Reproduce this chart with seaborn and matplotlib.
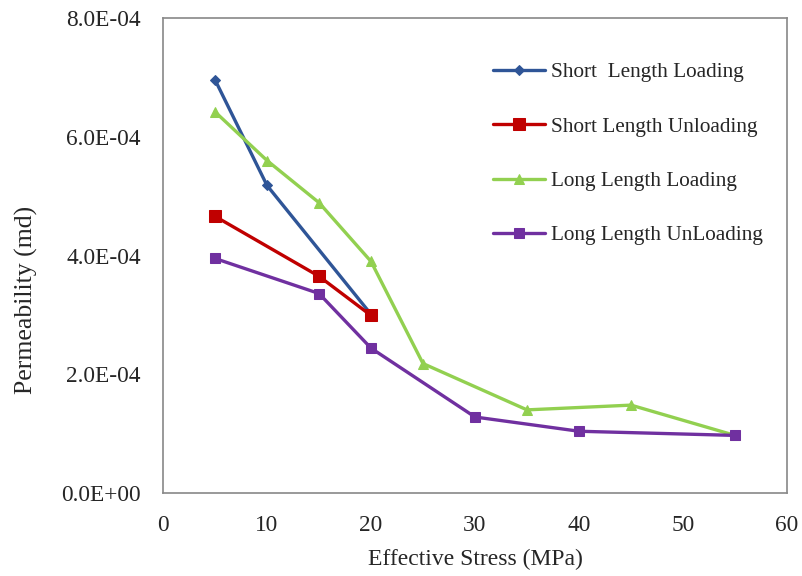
import matplotlib
matplotlib.use("Agg")
import matplotlib.pyplot as plt
import seaborn as sns
import pandas as pd

# Data
sl_x = [5, 10, 20]
sl_y = [6.96e-4, 5.18e-4, 3.01e-4]
su_x = [5, 15, 20]
su_y = [4.66e-4, 3.65e-4, 2.99e-4]
ll_x = [5, 10, 15, 20, 25, 35, 45, 55]
ll_y = [6.42e-4, 5.60e-4, 4.89e-4, 3.90e-4, 2.18e-4, 1.40e-4, 1.48e-4, 0.97e-4]
lu_x = [5, 15, 20, 30, 40, 55]
lu_y = [3.95e-4, 3.36e-4, 2.44e-4, 1.28e-4, 1.04e-4, 0.97e-4]
names = ["Short  Length Loading", "Short Length Unloading", "Long Length Loading", "Long Length UnLoading"]
x_ticks = [0, 10, 20, 30, 40, 50, 60]
y_ticks = [0, 2e-4, 4e-4, 6e-4, 8e-4]
y_tick_labels = ["0.0E+00", "2.0E-04", "4.0E-04", "6.0E-04", "8.0E-04"]

sns.set_style("white")
plt.rcParams['font.family'] = ['Liberation Serif', 'DejaVu Serif']

colors = ["#2F5597", "#C00000", "#92D050", "#7030A0"]
markers = ["D", "s", "^", "s"]
msizes = [5, 8, 7, 7]

fig = plt.figure(figsize=(8.02, 5.76), dpi=100)
ax = fig.add_axes([163/802, 1-493/576, (787-163)/802, (493-18)/576])

series = [(sl_x, sl_y), (su_x, su_y), (ll_x, ll_y), (lu_x, lu_y)]
for (xs, ys), name, c, m, ms in zip(series, names, colors, markers, msizes):
    df = pd.DataFrame({"x": xs, "y": ys})
    sns.lineplot(data=df, x="x", y="y", ax=ax, color=c, marker=m, markersize=ms,
                 markeredgecolor=c, linewidth=2.4, sort=False, label=name)

ax.set_xlim(0, 60)
ax.set_ylim(0, 8e-4)
ax.set_xticks(x_ticks)
ax.set_xticklabels([str(t) for t in x_ticks])
ax.set_yticks(y_ticks)
ax.set_yticklabels(y_tick_labels)
ax.tick_params(axis='both', direction='in', length=4, color='#888888', labelsize=16.8)
ax.tick_params(axis='x', pad=16)
ax.tick_params(axis='y', pad=16)
for s in ax.spines.values():
    s.set_color('#888888')
    s.set_linewidth(1.2)
ax.set_xlabel("Effective Stress (MPa)", fontsize=17, labelpad=9)
ax.set_ylabel("Permeability (md)", fontsize=18.5, labelpad=17, y=0.406)

h, l = ax.get_legend_handles_labels()
ax.legend(h, l, loc='center left', bbox_to_anchor=(493/802, 1-154/576), bbox_transform=fig.transFigure,
          frameon=False, fontsize=15.3, handlelength=2.45, handletextpad=0.3, labelspacing=1.62,
          borderpad=0, borderaxespad=0)

fig.savefig("out.png", dpi=100)
